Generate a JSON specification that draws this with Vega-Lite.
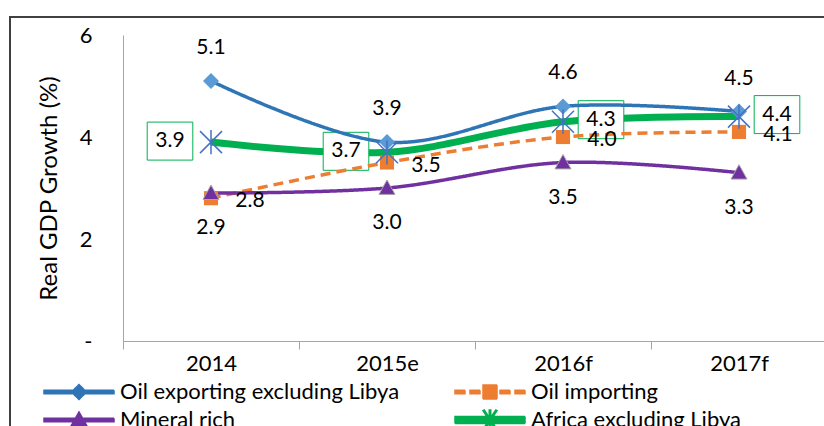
{
  "$schema": "https://vega.github.io/schema/vega-lite/v6.json",
  "width": 704,
  "height": 306,
  "autosize": "none",
  "padding": {"left": 123, "top": 35, "right": 0, "bottom": 85},
  "background": "white",
  "config": {"font": "Lato", "view": {"stroke": null}},
  "data": {
    "values": [
      {"period": "2014", "series": "Oil exporting excluding Libya", "value": 5.1},
      {"period": "2015e", "series": "Oil exporting excluding Libya", "value": 3.9},
      {"period": "2016f", "series": "Oil exporting excluding Libya", "value": 4.6},
      {"period": "2017f", "series": "Oil exporting excluding Libya", "value": 4.5},
      {"period": "2014", "series": "Oil importing", "value": 2.8},
      {"period": "2015e", "series": "Oil importing", "value": 3.5},
      {"period": "2016f", "series": "Oil importing", "value": 4.0},
      {"period": "2017f", "series": "Oil importing", "value": 4.1},
      {"period": "2014", "series": "Mineral rich", "value": 2.9},
      {"period": "2015e", "series": "Mineral rich", "value": 3.0},
      {"period": "2016f", "series": "Mineral rich", "value": 3.5},
      {"period": "2017f", "series": "Mineral rich", "value": 3.3},
      {"period": "2014", "series": "Africa excluding Libya", "value": 3.9},
      {"period": "2015e", "series": "Africa excluding Libya", "value": 3.7},
      {"period": "2016f", "series": "Africa excluding Libya", "value": 4.3},
      {"period": "2017f", "series": "Africa excluding Libya", "value": 4.4}
    ]
  },
  "encoding": {
    "x": {
      "field": "period",
      "type": "ordinal",
      "sort": ["2014", "2015e", "2016f", "2017f"],
      "scale": {"type": "band", "paddingInner": 0, "paddingOuter": 0},
      "axis": {
        "title": null,
        "labelAngle": 0,
        "domainColor": "#A6A6A6",
        "tickColor": "#A6A6A6",
        "tickBand": "extent",
        "tickSize": 8,
        "labelFontSize": 22,
        "labelColor": "black",
        "labelPadding": 4
      }
    },
    "y": {
      "field": "value",
      "type": "quantitative",
      "scale": {"domain": [0, 6], "nice": false},
      "axis": {
        "title": "Real GDP Growth (%)",
        "values": [0, 2, 4, 6],
        "labelExpr": "datum.value == 0 ? '-' : datum.label",
        "ticks": false,
        "grid": false,
        "domainColor": "#A6A6A6",
        "labelFontSize": 22,
        "labelColor": "black",
        "labelPadding": 31,
        "titleFontSize": 24,
        "titleFontWeight": "normal",
        "titleColor": "black",
        "titlePadding": 18
      }
    }
  },
  "layer": [
    {
      "transform": [{"filter": "datum.series == 'Africa excluding Libya'"}],
      "mark": {"type": "line", "interpolate": "cardinal", "strokeWidth": 7},
      "encoding": {
        "color": {
          "field": "series",
          "type": "nominal",
          "scale": {
            "domain": ["Oil exporting excluding Libya", "Oil importing", "Mineral rich", "Africa excluding Libya"],
            "range": ["#2E75B6", "#ED7D31", "#7030A0", "#00B050"]
          },
          "legend": {
            "title": null,
            "orient": "none",
            "legendX": -80,
            "legendY": 346,
            "columns": 2,
            "direction": "horizontal",
            "columnPadding": 52,
            "rowPadding": 4,
            "labelFontSize": 22,
            "labelLimit": 0,
            "labelColor": "black",
            "symbolSize": 100,
            "labelOffset": 55,
            "encode": {
              "symbols": {
                "update": {
                  "shape": {"signal": "datum.value == 'Oil importing' ? 'M-2,-0.35H0V0.35H-2Z M1,-0.35H3V0.35H1Z M3.6,-1.4H6.4V1.4H3.6Z M7,-0.35H9V0.35H7Z M10,-0.35H12V0.35H10Z' : datum.value == 'Mineral rich' ? 'M-2,-0.35H12V0.35H-2Z M5,-1.6L6.6,1.2L3.4,1.2Z' : datum.value == 'Africa excluding Libya' ? 'M-2,-0.7H12V0.7H-2Z M4.85,-2H5.15V2H4.85Z M3.6,-1.85L3.85,-2L6.4,1.85L6.15,2Z M6.15,-2L6.4,-1.85L3.85,2L3.6,1.85Z' : 'M-2,-0.35H12V0.35H-2Z M5,-1.5L6.5,0L5,1.5L3.5,0Z'"},
                  "fill": {"signal": "datum.value == 'Oil importing' ? '#ED7D31' : datum.value == 'Mineral rich' ? '#7030A0' : datum.value == 'Africa excluding Libya' ? '#00B050' : '#2E75B6'"},
                  "stroke": {"value": "transparent"},
                  "strokeDash": {"value": [1, 0]}
                }
              }
            }
          }
        }
      }
    },
    {
      "transform": [{"filter": "datum.series == 'Africa excluding Libya' && (datum.period == '2014' || datum.period == '2015e')"}],
      "mark": {"type": "point", "shape": "M-1.2,-1H1.2V1H-1.2Z", "size": 1444, "fill": "white", "fillOpacity": 1, "stroke": "#00B050", "strokeWidth": 1, "opacity": 1, "xOffset": -41, "yOffset": -1}
    },
    {
      "transform": [{"filter": "datum.series == 'Africa excluding Libya' && (datum.period == '2016f' || datum.period == '2017f')"}],
      "mark": {"type": "point", "shape": "M-1.2,-1H1.2V1H-1.2Z", "size": 1444, "fill": "white", "fillOpacity": 1, "stroke": "#00B050", "strokeWidth": 1, "opacity": 1, "xOffset": 38, "yOffset": -2}
    },
    {
      "transform": [{"filter": "datum.series != 'Africa excluding Libya'"}],
      "mark": {"type": "line", "interpolate": "cardinal", "strokeWidth": 3.5},
      "encoding": {
        "color": {
          "field": "series",
          "type": "nominal",
          "scale": {
            "domain": ["Oil exporting excluding Libya", "Oil importing", "Mineral rich", "Africa excluding Libya"],
            "range": ["#2E75B6", "#ED7D31", "#7030A0", "#00B050"]
          }
        },
        "strokeDash": {
          "field": "series",
          "type": "nominal",
          "scale": {
            "domain": ["Oil exporting excluding Libya", "Oil importing", "Mineral rich"],
            "range": [[1, 0], [10, 6], [1, 0]]
          },
          "legend": {
            "title": null,
            "orient": "none",
            "legendX": -113,
            "legendY": -18,
            "padding": 1000,
            "strokeColor": "#404040",
            "labelOpacity": 0,
            "symbolOpacity": 0,
            "encode": {"legend": {"update": {"strokeWidth": {"value": 2}}}}
          }
        }
      }
    },
    {
      "transform": [{"filter": "datum.series == 'Oil exporting excluding Libya'"}],
      "mark": {"type": "point", "shape": "M0,-1L1,0L0,1L-1,0Z", "size": 256, "filled": true, "fill": "#5B9BD5", "opacity": 1}
    },
    {
      "transform": [{"filter": "datum.series == 'Oil importing'"}],
      "mark": {"type": "point", "shape": "square", "size": 200, "filled": true, "fill": "#ED7D31", "opacity": 1}
    },
    {
      "transform": [{"filter": "datum.series == 'Mineral rich'"}],
      "mark": {"type": "point", "shape": "M0,-1L1,0.8L-1,0.8Z", "size": 256, "filled": true, "fill": "#7030A0", "stroke": "#A6A6A6", "strokeWidth": 1, "opacity": 1}
    },
    {
      "transform": [{"filter": "datum.series == 'Africa excluding Libya'"}],
      "mark": {"type": "point", "shape": "M-1,-1L1,1M-1,1L1,-1M0,-1.1L0,1.1", "size": 484, "filled": false, "stroke": "#4472C4", "strokeWidth": 1.5, "opacity": 1}
    },
    {
      "transform": [{"filter": "datum.series == 'Oil exporting excluding Libya'"}],
      "mark": {"type": "text", "dy": -33, "fontSize": 21, "color": "black"},
      "encoding": {"text": {"field": "value", "format": ".1f"}}
    },
    {
      "transform": [{"filter": "datum.series == 'Oil importing'"}],
      "mark": {"type": "text", "dx": 39, "dy": 3, "fontSize": 21, "color": "black"},
      "encoding": {"text": {"field": "value", "format": ".1f"}}
    },
    {
      "transform": [{"filter": "datum.series == 'Mineral rich'"}],
      "mark": {"type": "text", "dy": 35, "fontSize": 21, "color": "black"},
      "encoding": {"text": {"field": "value", "format": ".1f"}}
    },
    {
      "transform": [{"filter": "datum.series == 'Africa excluding Libya' && (datum.period == '2014' || datum.period == '2015e')"}],
      "mark": {"type": "text", "dx": -41, "dy": -1, "fontSize": 21, "color": "black"},
      "encoding": {"text": {"field": "value", "format": ".1f"}}
    },
    {
      "transform": [{"filter": "datum.series == 'Africa excluding Libya' && (datum.period == '2016f' || datum.period == '2017f')"}],
      "mark": {"type": "text", "dx": 38, "dy": -2, "fontSize": 21, "color": "black"},
      "encoding": {"text": {"field": "value", "format": ".1f"}}
    }
  ]
}
